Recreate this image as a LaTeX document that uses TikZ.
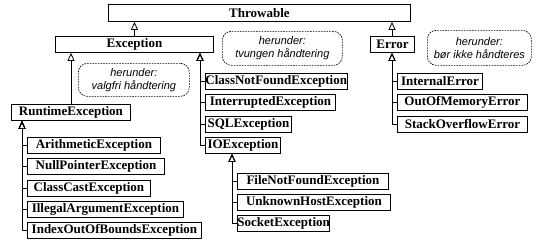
\documentclass[tikz,border=0pt]{standalone}
\usepackage{fontspec}
\setmainfont{Liberation Serif}
\setsansfont{Liberation Sans}
\usetikzlibrary{arrows.meta}
\begin{document}
\begin{tikzpicture}[x=1pt,y=-1pt,
  cls/.style={draw,line width=0.9pt,inner sep=0pt,anchor=north west,
    font=\fontsize{13}{14}\selectfont\rmfamily\bfseries},
  note/.style={draw,dash pattern=on 1.6pt off 1.1pt,line width=0.7pt,
    rounded corners=9pt,anchor=north west,align=center,inner sep=0pt,
    font=\fontsize{11}{13}\selectfont\sffamily\itshape},
  gen/.style={line width=0.8pt,
    -{Triangle[open,length=8pt,width=7pt,line width=0.8pt]}}]

\useasboundingbox (0,0) rectangle (539,244);

% class boxes: (left, top), width, height
\node[cls,minimum width=302,minimum height=17] (thr) at (108,4)  {Throwable};
\node[cls,minimum width=158,minimum height=16] (exc) at (55,36)  {Exception};
\node[cls,minimum width=44, minimum height=16] (err) at (370,36) {Error};

\node[cls,minimum width=119,minimum height=16] (rt)  at (11,104) {RuntimeException};
\node[cls,minimum width=133,minimum height=16] (ae)  at (27,137) {ArithmeticException};
\node[cls,minimum width=137,minimum height=16] (np)  at (27,158) {NullPointerException};
\node[cls,minimum width=123,minimum height=16] (cc)  at (27,180) {ClassCastException};
\node[cls,minimum width=156,minimum height=16] (ia)  at (27,201) {IllegalArgumentException};
\node[cls,minimum width=174,minimum height=16] (iob) at (27,222) {IndexOutOfBoundsException};

\node[cls,minimum width=140,minimum height=16] (cnf) at (205,73)  {ClassNotFoundException};
\node[cls,minimum width=130,minimum height=16] (ie)  at (205,94)  {InterruptedException};
\node[cls,minimum width=86, minimum height=16] (sql) at (205,116) {SQLException};
\node[cls,minimum width=75, minimum height=16] (ioe) at (205,137) {IOException};

\node[cls,minimum width=151,minimum height=16] (fnf) at (237,173) {FileNotFoundException};
\node[cls,minimum width=153,minimum height=16] (uh)  at (237,194) {UnknownHostException};
\node[cls,minimum width=83, minimum height=16] (se)  at (237,215) {SocketException};

\node[cls,minimum width=85, minimum height=16] (ine) at (397,73)  {InternalError};
\node[cls,minimum width=130,minimum height=16] (oom) at (397,94)  {OutOfMemoryError};
\node[cls,minimum width=130,minimum height=16] (so)  at (397,116) {StackOverflowError};

% dashed comment boxes
\node[note,minimum width=120,minimum height=34] (n1) at (222,31) {herunder:\\tvungen håndtering};
\node[note,minimum width=104,minimum height=35] (n2) at (427,30) {herunder:\\bør ikke håndteres};
\node[note,minimum width=111,minimum height=33] (n3) at (78,63)  {herunder:\\valgfri håndtering};

% x positions of the inheritance trunks
\coordinate (tRt)  at (22,0);
\coordinate (tExL) at (71,0);
\coordinate (tExR) at (200,0);
\coordinate (tIo)  at (232,0);
\coordinate (tEr)  at (392,0);

% generalisations
\draw[gen] (exc.north) -- (exc.north |- thr.south);
\draw[gen] (err.north -| tEr) -- (thr.south -| tEr);
\draw[gen] (rt.north -| tExL) -- (exc.south -| tExL);

\foreach \c in {cnf,ie,sql,ioe}
  \draw[gen] (\c.west) -| (exc.south -| tExR);
\foreach \c in {ae,np,cc,ia,iob}
  \draw[gen] (\c.west) -| (rt.south -| tRt);
\foreach \c in {fnf,uh,se}
  \draw[gen] (\c.west) -| (ioe.south -| tIo);
\foreach \c in {ine,oom,so}
  \draw[gen] (\c.west) -| (err.south -| tEr);
\end{tikzpicture}
\end{document}
